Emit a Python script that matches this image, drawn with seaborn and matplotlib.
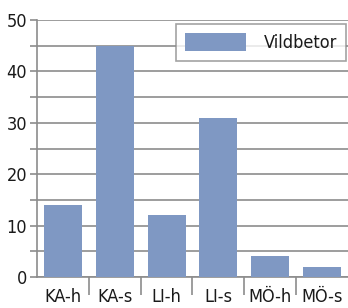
import matplotlib
matplotlib.use("Agg")
import matplotlib.pyplot as plt
from matplotlib.ticker import MultipleLocator, FixedLocator, NullFormatter
import pandas as pd
import seaborn as sns

categories = ["KA-h", "KA-s", "LI-h", "LI-s", "MÖ-h", "MÖ-s"]
values = [14, 45, 12, 31, 4, 2]
series_name = "Vildbetor"

df = pd.DataFrame({"plats": categories, "antal": values, "serie": series_name})

sns.set_style("white")
plt.rcParams["font.family"] = ["DejaVu Sans"]
plt.rcParams["font.stretch"] = "condensed"
plt.rcParams["text.color"] = "#1a1a1a"
plt.rcParams["xtick.labelcolor"] = "#1a1a1a"
plt.rcParams["ytick.labelcolor"] = "#1a1a1a"

fig = plt.figure(figsize=(3.48, 3.08), dpi=100)
ax = fig.add_axes([37 / 348, 1 - 277 / 308, 1 - 37 / 348, 257 / 308])

sns.barplot(data=df, x="plats", y="antal", hue="serie", palette=["#7f98c3"],
            width=0.73, saturation=1, linewidth=0, ax=ax, zorder=3)

ax.set_ylim(0, 50)
ax.set_xlim(-0.5, len(categories) - 0.5)
ax.yaxis.set_major_locator(MultipleLocator(10))
ax.yaxis.set_minor_locator(MultipleLocator(5))
ax.grid(axis="y", which="both", color="#8c8c8c", linewidth=1.2, zorder=0)
ax.set_axisbelow(True)

ax.tick_params(axis="y", which="both", direction="out", length=5, width=1.2,
               color="#8c8c8c", labelsize=13, pad=2, left=True)
ax.tick_params(axis="x", which="major", length=0, labelsize=13, pad=8)
ax.xaxis.set_minor_locator(FixedLocator([i + 0.5 for i in range(len(categories) - 1)]))
ax.xaxis.set_minor_formatter(NullFormatter())
ax.tick_params(axis="x", which="minor", direction="out", length=13, width=1.2,
               color="#8c8c8c", bottom=True)

for side in ["top", "right"]:
    ax.spines[side].set_visible(False)
for side in ["left", "bottom"]:
    ax.spines[side].set_color("#8c8c8c")
    ax.spines[side].set_linewidth(1.2)

ax.set_xlabel("")
ax.set_ylabel("")

leg = ax.legend(loc="upper right", bbox_to_anchor=(0.995, 0.985), fontsize=13,
                frameon=True, fancybox=False, edgecolor="#8c8c8c",
                handlelength=3.4, handleheight=1.2, borderpad=0.5,
                handletextpad=1.0, borderaxespad=0)
leg.get_frame().set_linewidth(1.2)
leg.set_zorder(5)

fig.savefig("out.png", dpi=100)
